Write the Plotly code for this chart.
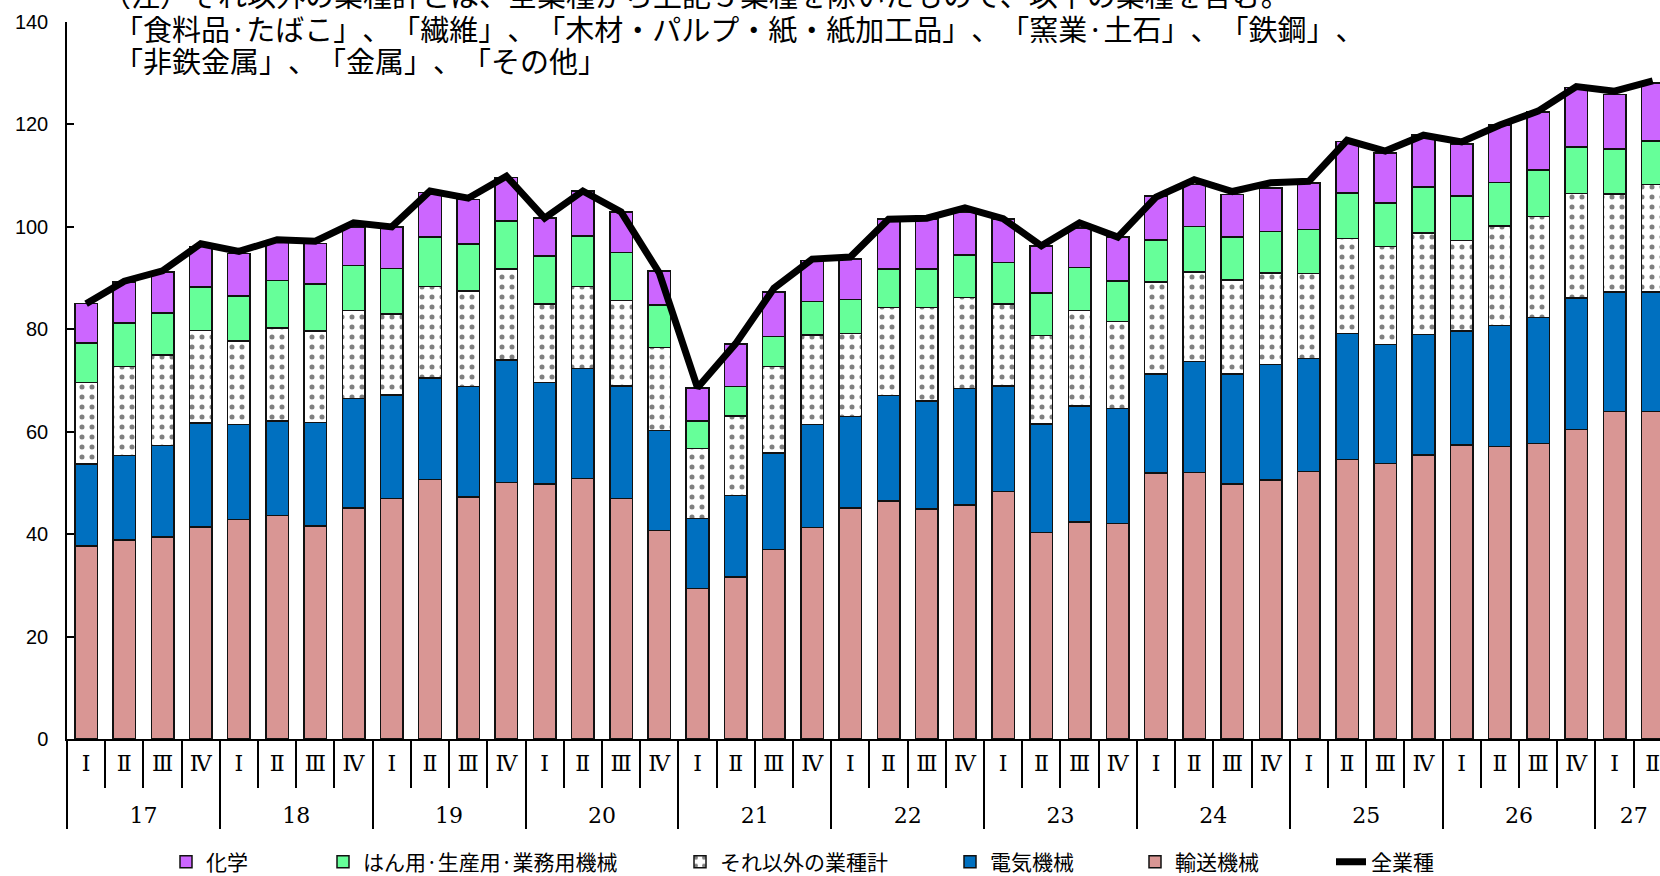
import plotly.graph_objects as go

# ---- data ----
year_labels = ["17", "18", "19", "20", "21", "22", "23", "24", "25", "26", "27"]
quarter_labels = ["Ⅰ", "Ⅱ", "Ⅲ", "Ⅳ"]
n_quarters_per_year = [4, 4, 4, 4, 4, 4, 4, 4, 4, 4, 2]

transport = [37.7, 38.9, 39.4, 41.4, 42.9, 43.6, 41.6, 45.1, 47.0, 50.7, 47.3, 50.1, 49.8, 50.9,
             47.0, 40.7, 29.4, 31.6, 37.0, 41.3, 45.1, 46.5, 44.9, 45.7, 48.3, 40.3, 42.4, 42.1,
             51.9, 52.0, 49.8, 50.6, 52.2, 54.6, 53.8, 55.5, 57.4, 57.1, 57.7, 60.4, 63.9, 63.9]
electrical = [16.0, 16.5, 17.9, 20.3, 18.5, 18.5, 20.2, 21.4, 20.2, 19.8, 21.5, 23.9, 19.8, 21.4,
              21.9, 19.5, 13.7, 15.9, 18.8, 20.1, 17.9, 20.6, 21.1, 22.7, 20.6, 21.2, 22.6, 22.4,
              19.4, 21.7, 21.5, 22.5, 22.1, 24.6, 23.2, 23.5, 22.3, 23.6, 24.6, 25.7, 23.4, 23.4]
others = [15.9, 17.3, 17.7, 18.1, 16.3, 18.2, 17.9, 17.2, 15.8, 17.9, 18.7, 17.8, 15.3, 16.1,
          16.7, 16.2, 13.6, 15.6, 16.9, 17.5, 16.2, 17.2, 18.3, 17.8, 16.0, 17.3, 18.7, 17.0,
          17.9, 17.5, 18.3, 17.9, 16.6, 18.5, 19.2, 19.8, 17.6, 19.5, 19.7, 20.4, 19.1, 21.0]
machinery = [7.7, 8.5, 8.2, 8.5, 8.8, 9.2, 9.1, 8.8, 8.9, 9.6, 9.2, 9.3, 9.4, 9.8,
             9.4, 8.3, 5.4, 5.7, 5.9, 6.5, 6.6, 7.5, 7.5, 8.3, 8.1, 8.3, 8.4, 7.9,
             8.2, 8.9, 8.4, 8.1, 8.6, 8.9, 8.5, 9.0, 8.7, 8.5, 9.1, 9.1, 8.8, 8.5]
chemical = [7.7, 8.0, 8.0, 7.9, 8.3, 7.5, 8.0, 7.5, 8.1, 8.7, 8.6, 8.5, 7.4, 8.8,
            7.9, 6.7, 6.4, 8.3, 8.7, 8.0, 7.9, 9.7, 9.7, 8.4, 8.5, 9.2, 7.7, 8.6,
            8.6, 8.2, 8.3, 8.5, 9.1, 10.1, 9.7, 10.1, 10.2, 11.2, 11.3, 11.6, 10.6, 11.3]
all_industries = [85.0, 89.4, 91.4, 96.7, 95.2, 97.5, 97.2, 100.8, 100.0, 107.0, 105.6, 109.9, 101.7, 107.0,
                  102.9, 91.0, 68.6, 77.2, 88.0, 93.7, 94.1, 101.5, 101.7, 103.7, 101.6, 96.3, 100.8, 98.0,
                  105.8, 109.2, 106.9, 108.6, 108.9, 116.9, 114.8, 117.9, 116.6, 119.9, 122.6, 127.4, 126.5, 128.5]

series_names = ["輸送機械", "電気機械", "それ以外の業種計", "はん用·生産用·業務用機械", "化学", "全業種"]

note_lines = [
    "（注）それ以外の業種計とは、全業種から上記５業種を除いたもので、以下の業種を含む。",
    "「食料品·たばこ」、「繊維」、「木材・パルプ・紙・紙加工品」、「窯業·土石」、「鉄鋼」、",
    "「非鉄金属」、「金属」、「その他」",
]

# ---- build x (multicategory) ----
x_year, x_q = [], []
for y, n in zip(year_labels, n_quarters_per_year):
    for q in quarter_labels[:n]:
        x_year.append("<br>" + y)   # blank first line puts the year row lower
        x_q.append(q)
x = [x_year, x_q]

# ---- layout constants ----
W, H = 1660, 876
ML, MR, MT, MB = 67, 0, 22, 137
PW = W - ML - MR
PH = H - MT - MB

def px_x(p):
    return (p - ML) / PW

def px_y(p):
    return (H - MB - p) / PH

outline = dict(color="#111111", width=1.5)
cjk = "Noto Sans CJK JP"

fig = go.Figure()
fig.add_trace(go.Bar(x=x, y=transport, name=series_names[0],
                     marker=dict(color="#D99694", line=outline), legend="legend5"))
fig.add_trace(go.Bar(x=x, y=electrical, name=series_names[1],
                     marker=dict(color="#0070C0", line=outline), legend="legend4"))
fig.add_trace(go.Bar(x=x, y=others, name=series_names[2],
                     marker=dict(color="white", line=outline,
                                 pattern=dict(shape=".", fgcolor="black", bgcolor="white",
                                              size=10, solidity=0.2)),
                     legend="legend3"))
fig.add_trace(go.Bar(x=x, y=machinery, name=series_names[3],
                     marker=dict(color="#66FF99", line=outline), legend="legend2"))
fig.add_trace(go.Bar(x=x, y=chemical, name=series_names[4],
                     marker=dict(color="#CC66FF", line=outline), legend="legend"))
fig.add_trace(go.Scatter(x=x, y=all_industries, name=series_names[5], mode="lines",
                         line=dict(color="black", width=7), legend="legend6"))

legend_text_starts = [206, 363, 720, 990, 1175, 1371]
legend_names = ["legend", "legend2", "legend3", "legend4", "legend5", "legend6"]
for ln, xs in zip(legend_names, legend_text_starts):
    fig.update_layout({ln: dict(x=(xs - 40) / W, xref="container", xanchor="left",
                                y=(H - 862) / H, yref="container", yanchor="middle",
                                orientation="h", font=dict(family=cjk, size=21, color="black"),
                                bgcolor="rgba(0,0,0,0)")})

note_pos = [(100, -6), (112, 28), (112, 60)]
for txt, (ax_, ay_) in zip(note_lines, note_pos):
    fig.add_annotation(text="<span style='text-spacing-trim:space-all'>" + txt + "</span>",
                       xref="paper", yref="paper", x=px_x(ax_), y=px_y(ay_),
                       xanchor="left", yanchor="middle", showarrow=False, height=30,
                       font=dict(family=cjk, size=29, color="black"))

fig.update_layout(
    width=W, height=H,
    margin=dict(l=ML, r=MR, t=MT, b=MB, pad=0, autoexpand=False),
    barmode="stack", bargap=0.41,
    plot_bgcolor="white", paper_bgcolor="white",
    showlegend=True,
    font=dict(family="Liberation Sans", color="black"),
)
fig.update_xaxes(
    type="multicategory", range=[-0.5, 41.19],
    showline=True, linecolor="black", linewidth=1.5,
    showgrid=False, zeroline=False,
    ticks="outside", tickson="boundaries", ticklen=47, tickcolor="black", tickwidth=1.5,
    showdividers=True, dividercolor="black", dividerwidth=1.5,
    tickfont=dict(family="DejaVu Serif, Noto Sans CJK JP", size=22, color="black"),
    tickangle=0, ticklabelstandoff=4,
)
fig.update_yaxes(
    range=[0, 140], dtick=20, tick0=0,
    showline=True, linecolor="black", linewidth=1.5,
    showgrid=False, zeroline=False,
    ticks="inside", ticklen=7, tickcolor="black", tickwidth=1.5,
    tickfont=dict(family="Liberation Sans", size=20, color="black"),
    ticklabelstandoff=13,
)

fig.write_html("out.html", config={"displayModeBar": False},
               post_script="document.body.style.margin='0';")
